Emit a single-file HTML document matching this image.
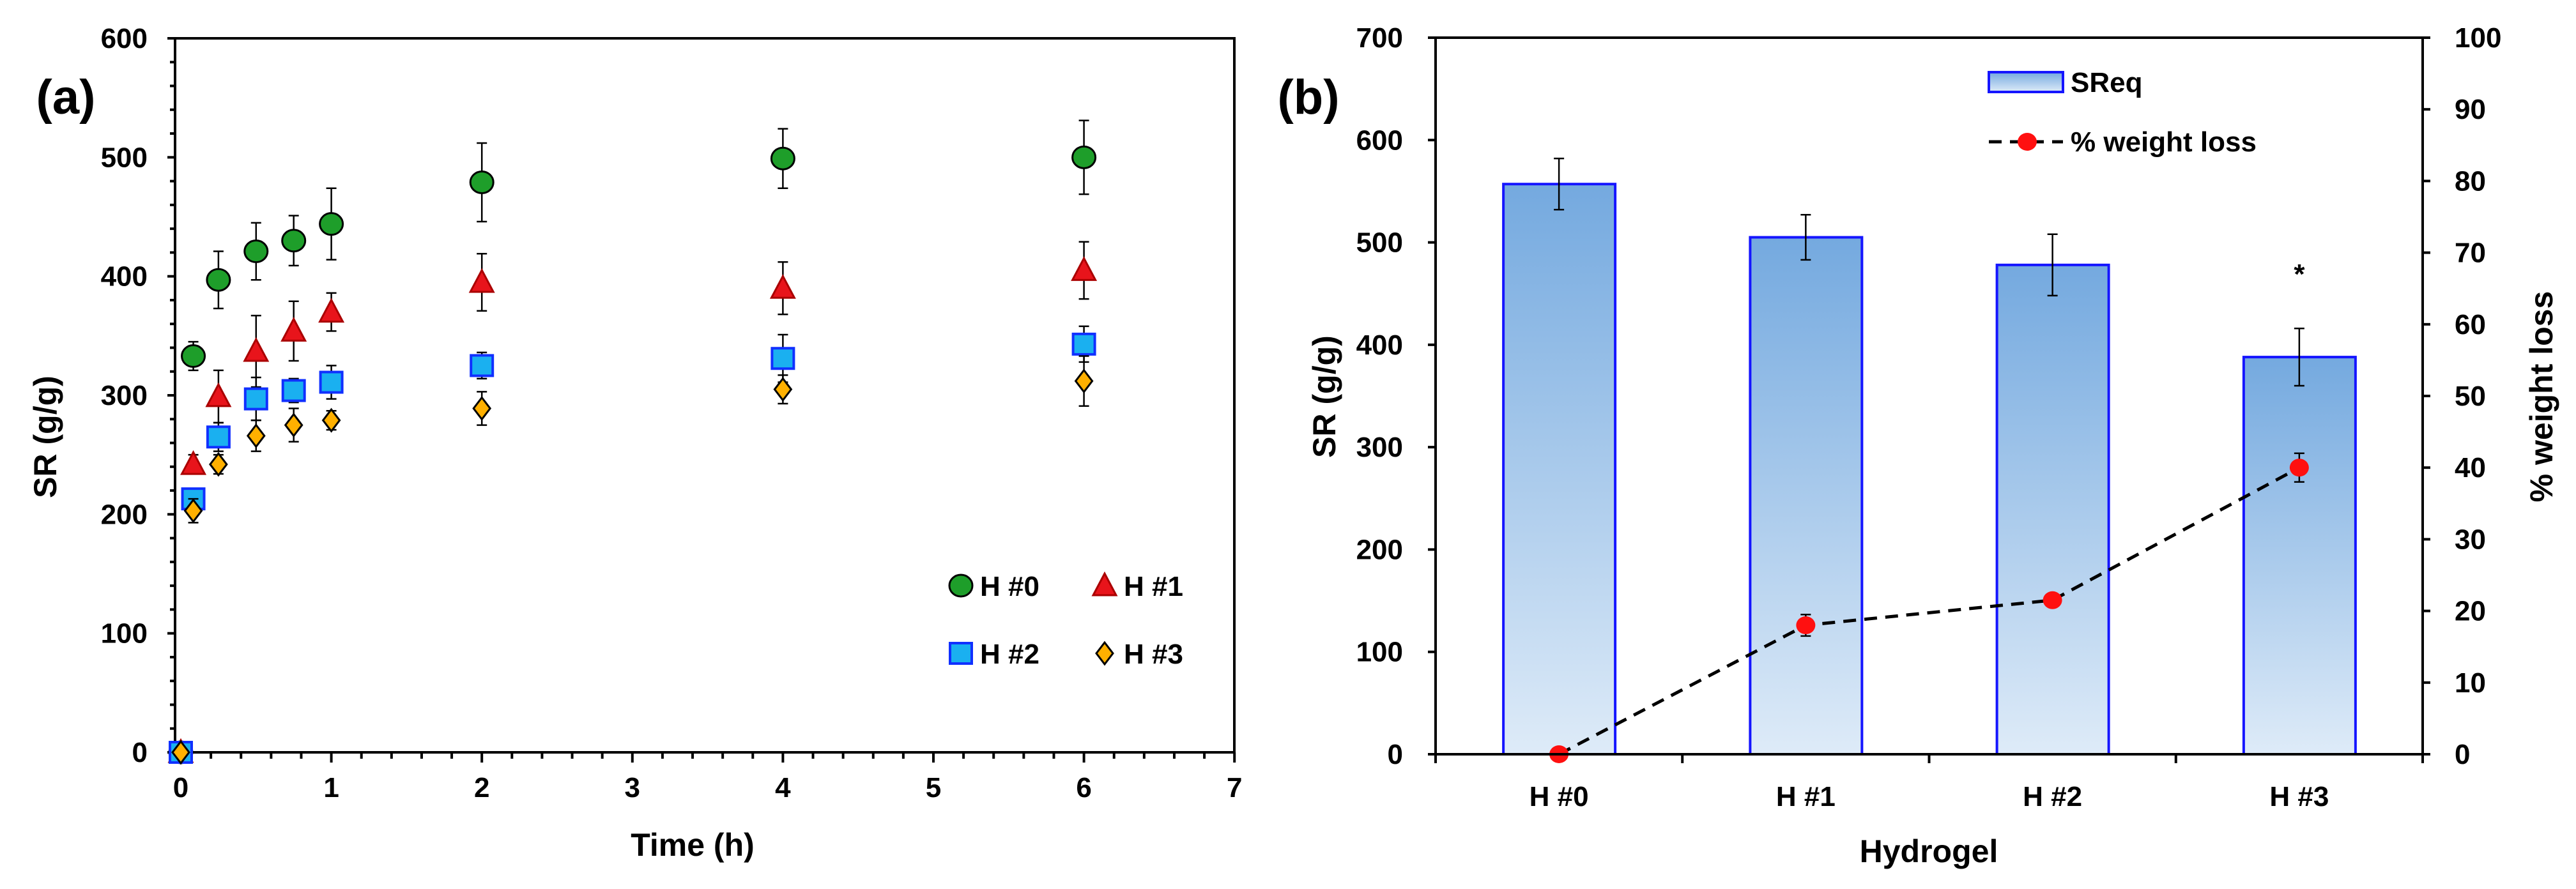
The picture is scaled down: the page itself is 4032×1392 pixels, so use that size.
<!DOCTYPE html>
<html><head><meta charset="utf-8"><style>
html,body{margin:0;padding:0;background:#fff;}
svg{display:block;font-family:"Liberation Sans",sans-serif;font-weight:bold;}
</style></head><body>
<svg id="c" width="4032" height="1392" viewBox="0 0 4032 1392">
<defs><linearGradient id="bg" x1="0" y1="0" x2="0" y2="1"><stop offset="0" stop-color="#74a9df"/><stop offset="1" stop-color="#deebf8"/></linearGradient></defs>
<g id="pa"></g>
<g id="pb"></g>
</svg>
<script>
// Panel (a) data
const times=[0,0.083,0.25,0.5,0.75,1,2,4,6];
const seriesNames=["H #0","H #1","H #2","H #3"];
const h0=[0,333,397,421,430,444,479,499,500];
const h0err=[0,12,24,24,21,30,33,25,31];
const h1=[0,242,299,337,354,370,395,390,405];
const h1err=[0,8,22,30,25,16,24,22,24];
const h2=[0,213,265,297,304,311,325,331,343];
const h2err=[0,8,12,18,10,14,11,20,15];
const h3=[0,203,242,266,275,279,289,305,312];
const h3err=[0,10,8,13,14,8,14,12,21];
const yTicksA=[0,100,200,300,400,500,600];
const xTicksA=[0,1,2,3,4,5,6,7];
// Panel (b) data
const categories=["H #0","H #1","H #2","H #3"];
const sreq=[557,505,478,388];
const sreqErr=[25,22,30,28];
const weightLoss=[0,18,21.5,40];
const weightLossErr=[0,1.5,0,2];
const yTicksBL=[0,100,200,300,400,500,600,700];
const yTicksBR=[0,10,20,30,40,50,60,70,80,90,100];

const NS="http://www.w3.org/2000/svg";
function mk(p,t,a,txt){const e=document.createElementNS(NS,t);for(const k in a)e.setAttribute(k,a[k]);if(txt!==undefined)e.textContent=txt;p.appendChild(e);return e;}

// ---------- Panel A ----------
const A=document.getElementById('pa');
const axL=274,axR=1932,axT=60,axB=1178;
const xA=v=>283+v*235.6;
const yA=v=>axB-v*(axB-axT)/600;
let e;
e=mk(A,'rect',{x:axL,y:axT,width:axR-axL,height:axB-axT,fill:'none',stroke:'#000','stroke-width':4});

for(let v=0;v<=600;v+=20){const maj=v%100===0;mk(A,'line',{x1:axL-(maj?12:8),x2:axL,y1:yA(v),y2:yA(v),stroke:'#000','stroke-width':4});}
for(let v=0;v<=7.001;v+=0.2){const maj=Math.abs(v-Math.round(v))<0.01;mk(A,'line',{x1:xA(v),x2:xA(v),y1:axB,y2:axB+(maj?16:10),stroke:'#000','stroke-width':4});}
yTicksA.forEach(v=>{e=mk(A,'text',{x:231,y:yA(v)+15,'text-anchor':'end','font-size':44},v);});
xTicksA.forEach(v=>{e=mk(A,'text',{x:xA(v),y:1248,'text-anchor':'middle','font-size':44},v);});
e=mk(A,'text',{x:1084,y:1340,'text-anchor':'middle','font-size':50},'Time (h)');
e=mk(A,'text',{x:0,y:0,'text-anchor':'middle','font-size':50,transform:'translate(88,684) rotate(-90)'},'SR (g/g)');
e=mk(A,'text',{x:103,y:178,'text-anchor':'middle','font-size':76},'(a)');

function marker(p,kind,cx,cy){
  if(kind===0)return mk(p,'ellipse',{cx:cx,cy:cy,rx:18,ry:17,fill:'#1e9e2a',stroke:'#000','stroke-width':3});
  if(kind===1)return mk(p,'polygon',{points:`${cx},${cy-19} ${cx+18},${cy+15} ${cx-18},${cy+15}`,fill:'#e8141b',stroke:'#a00','stroke-width':3});
  if(kind===2)return mk(p,'rect',{x:cx-17,y:cy-16,width:34,height:32,fill:'#1ab0f0',stroke:'#1030ff','stroke-width':4});
  return mk(p,'polygon',{points:`${cx},${cy-17} ${cx+13},${cy} ${cx},${cy+17} ${cx-13},${cy}`,fill:'#ffb000',stroke:'#000','stroke-width':3});
}
const vals=[h0,h1,h2,h3],errs=[h0err,h1err,h2err,h3err];
vals.forEach((s,k)=>{
  const g=mk(A,'g',{});
  
  s.forEach((v,i)=>{
    const er=errs[k][i];
    if(er>0){const x=xA(times[i]);
      mk(g,'line',{x1:x,x2:x,y1:yA(v+er),y2:yA(v-er),stroke:'#000','stroke-width':2.5});
      mk(g,'line',{x1:x-8,x2:x+8,y1:yA(v+er),y2:yA(v+er),stroke:'#000','stroke-width':2.5});
      mk(g,'line',{x1:x-8,x2:x+8,y1:yA(v-er),y2:yA(v-er),stroke:'#000','stroke-width':2.5});}
  });
  s.forEach((v,i)=>{const m=marker(g,k,xA(times[i]),yA(v));
    });
});
const legPos=[[1504,917],[1729,917],[1504,1023],[1729,1023]];
seriesNames.forEach((n,k)=>{const g=mk(A,'g',{});
  
  marker(g,k,legPos[k][0],legPos[k][1]);
  mk(g,'text',{x:legPos[k][0]+30,y:legPos[k][1]+16,'font-size':44},n);});

// ---------- Panel B ----------
const B=document.getElementById('pb');
const bL=2247,bR=3792,bT=59,bB=1181;
const yB=v=>bB-v*(bB-bT)/700;
const yW=v=>bB-v*(bB-bT)/100;
const bw=(bR-bL)/categories.length;
const xB=i=>bL+bw*(i+0.5);
e=mk(B,'text',{x:2048,y:178,'text-anchor':'middle','font-size':76},'(b)');
sreq.forEach((v,i)=>{e=mk(B,'rect',{x:xB(i)-87,y:yB(v),width:175,height:bB-yB(v),fill:'url(#bg)',stroke:'#1515ff','stroke-width':4});
  });
sreq.forEach((v,i)=>{const x=xB(i),er=sreqErr[i];
  mk(B,'line',{x1:x,x2:x,y1:yB(v+er),y2:yB(v-er),stroke:'#000','stroke-width':2.5});
  mk(B,'line',{x1:x-8,x2:x+8,y1:yB(v+er),y2:yB(v+er),stroke:'#000','stroke-width':2.5});
  mk(B,'line',{x1:x-8,x2:x+8,y1:yB(v-er),y2:yB(v-er),stroke:'#000','stroke-width':2.5});});
e=mk(B,'text',{x:xB(3),y:yB(sreq[3]+sreqErr[3])-70,'text-anchor':'middle','font-size':44},'*');
e=mk(B,'polyline',{points:weightLoss.map((v,i)=>xB(i)+','+yW(v)).join(' '),fill:'none',stroke:'#000','stroke-width':5,'stroke-dasharray':'20 13'});

weightLoss.forEach((v,i)=>{const x=xB(i),er=weightLossErr[i];
  if(er>0){mk(B,'line',{x1:x,x2:x,y1:yW(v+er),y2:yW(v-er),stroke:'#000','stroke-width':2.5});
    mk(B,'line',{x1:x-8,x2:x+8,y1:yW(v+er),y2:yW(v+er),stroke:'#000','stroke-width':2.5});
    mk(B,'line',{x1:x-8,x2:x+8,y1:yW(v-er),y2:yW(v-er),stroke:'#000','stroke-width':2.5});}
  e=mk(B,'ellipse',{cx:x,cy:yW(v),rx:15,ry:14,fill:'#ff1010'});});
e=mk(B,'rect',{x:bL,y:bT,width:bR-bL,height:bB-bT,fill:'none',stroke:'#000','stroke-width':4});

yTicksBL.forEach(v=>{mk(B,'line',{x1:bL-12,x2:bL,y1:yB(v),y2:yB(v),stroke:'#000','stroke-width':4});
  e=mk(B,'text',{x:2196,y:yB(v)+15,'text-anchor':'end','font-size':44},v);});
yTicksBR.forEach(v=>{mk(B,'line',{x1:bR,x2:bR+12,y1:yW(v),y2:yW(v),stroke:'#000','stroke-width':4});
  e=mk(B,'text',{x:3842,y:yW(v)+15,'text-anchor':'start','font-size':44},v);});
for(let i=0;i<=categories.length;i++)mk(B,'line',{x1:bL+bw*i,x2:bL+bw*i,y1:bB,y2:bB+14,stroke:'#000','stroke-width':4});
categories.forEach((c,i)=>{e=mk(B,'text',{x:xB(i),y:1262,'text-anchor':'middle','font-size':44},c);});
e=mk(B,'text',{x:3019,y:1350,'text-anchor':'middle','font-size':50},'Hydrogel');
e=mk(B,'text',{x:0,y:0,'text-anchor':'middle','font-size':50,transform:'translate(2090,621) rotate(-90)'},'SR (g/g)');
e=mk(B,'text',{x:0,y:0,'text-anchor':'middle','font-size':50,transform:'translate(3995,621) rotate(-90)'},'% weight loss');
let lg=mk(B,'g',{});
mk(lg,'rect',{x:3113,y:113,width:116,height:31,fill:'url(#bg)',stroke:'#1515ff','stroke-width':4});
mk(lg,'text',{x:3241,y:144,'font-size':44},'SReq');
lg=mk(B,'g',{});
mk(lg,'line',{x1:3113,x2:3229,y1:222,y2:222,stroke:'#000','stroke-width':5,'stroke-dasharray':'20 13'});
mk(lg,'ellipse',{cx:3173,cy:222,rx:15,ry:14,fill:'#ff1010'});
mk(lg,'text',{x:3241,y:237,'font-size':44},'% weight loss');
</script>
</body></html>
